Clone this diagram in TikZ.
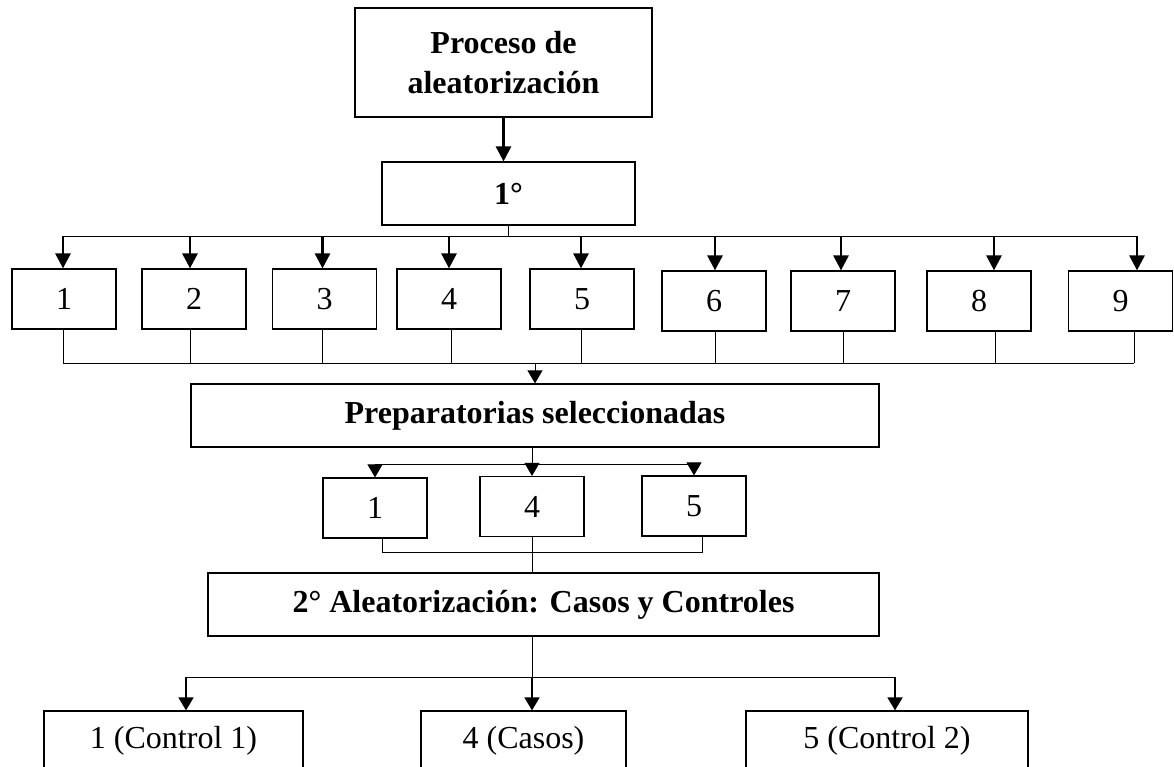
\documentclass[tikz,border=0pt]{standalone}
\usepackage{fontspec}
\setmainfont{Liberation Serif}
\usetikzlibrary{arrows.meta,calc}

\tikzset{
  box/.style={draw, line width=1.2pt, minimum width=#1, minimum height=60pt,
    inner sep=0pt, font=\fontsize{32}{40}\selectfont},
  box/.default=104pt,
  hbox/.style={box=#1, minimum height=63pt, font=\fontsize{32}{40}\selectfont\bfseries},
  link/.style={line width=0.9pt},
  arr/.style={line width=2.8pt, -{Triangle[length=15pt,width=15pt]}},
  tip/.style={line width=0.9pt, -{Triangle[length=13pt,width=15pt]}},
  mid/.style={line width=1.8pt, -{Triangle[length=13pt,width=15pt]}},
}

\begin{document}
\begin{tikzpicture}[x=1pt, y=-1pt]
  \clip (0,0) rectangle (1174,767);

  % first randomisation
  \node[hbox=297pt, minimum height=109pt, align=center] (proc) at (503.5,62.5) {Proceso de\\aleatorización};
  \node[hbox=253pt] (g1) at (508.5,193.5) {1°};
  \draw[arr] (proc.south) -- (proc.south |- g1.north);

  % the nine schools
  \foreach \n/\x/\y in {1/64/299,2/194/299,3/324.5/299,4/449/299,5/582/299,6/714/301,7/843/301,8/979/301,9/1120.5/301}
    \node[box] (b\n) at (\x,\y) {\n};

  \coordinate (busL) at (63,236);
  \coordinate (busR) at (1137,236);
  \coordinate (botL) at (63,363);
  \coordinate (botR) at (1134,363);
  \draw[link] (g1.south) -- (g1.south |- busL);
  \draw[link] (busL) -- (busR);
  \draw[link] (botL) -- (botR);

  \foreach \n/\dx/\ex in {1/-1/-1,2/-4/-4,3/-2/-2,4/0/2,5/-1/-1,6/1/1,7/-2/0,8/15/16,9/16.5/13.5} {
    \coordinate (a\n) at ($(b\n.north)+(\dx,0)$);
    \coordinate (c\n) at ($(b\n.south)+(\ex,0)$);
    \draw[arr] (a\n |- busL) -- (a\n);
    \draw[link] (c\n) -- (c\n |- botL);
  }

  \node[hbox=688pt] (prep) at (535,415.5) {Preparatorias seleccionadas};
  \draw[tip] (prep.north |- botL) -- (prep.north);

  % selected schools
  \node[box] (s1) at (375,508) {1};
  \node[box] (s4) at (532,506.5) {4};
  \node[box] (s5) at (694,506) {5};

  \coordinate (cL) at (375,464);
  \coordinate (cR) at (697,464);
  \draw[link] (prep.south -| s4) -- (s4 |- cL);
  \draw[link] (cL) -- (cR);
  \foreach \s in {s1,s4,s5}
    \draw[tip] (\s.north |- cL) -- (\s.north);

  \coordinate (dL) at (382,552);
  \coordinate (dR) at (702,552);
  \draw[link] (dL |- s1.south) -- (dL) -- (dR) -- (dR |- s5.south);

  % second randomisation
  \node[hbox=671pt] (ale) at (543.5,604.5) {2° Aleatorización: Casos y Controles};
  \draw[link] (s4.south) -- (s4.south |- ale.north);

  \node[box=259pt] (k1) at (173.5,741) {1 (Control 1)};
  \node[box=205pt] (k4) at (523.5,741) {4 (Casos)};
  \node[box=282pt] (k5) at (887,741) {5 (Control 2)};

  \coordinate (eL) at (186,677);
  \coordinate (eR) at (895,677);
  \draw[link] (ale.south -| s4) -- (s4 |- eL);
  \draw[link] (eL) -- (eR);
  \draw[mid] (eL) -- (eL |- k1.north);
  \draw[mid] (s4 |- eL) -- (s4 |- k4.north);
  \draw[mid] (eR) -- (eR |- k5.north);
\end{tikzpicture}
\end{document}
